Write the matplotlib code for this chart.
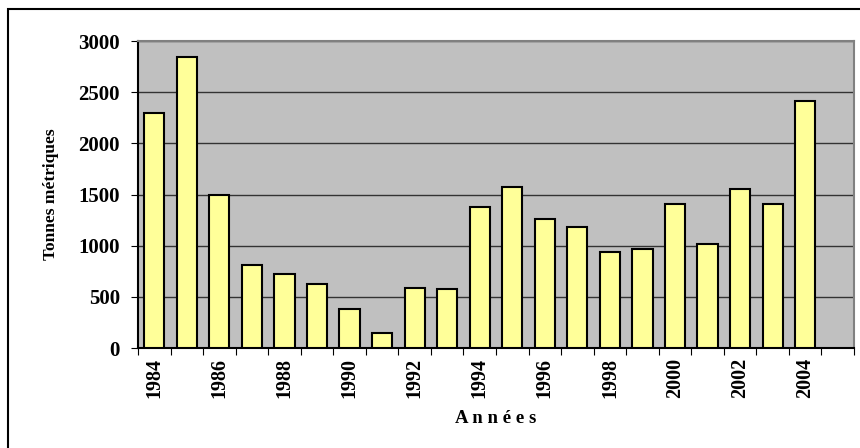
import numpy as np
import matplotlib.pyplot as plt
from matplotlib.patches import Rectangle

# Donnees
annees = list(range(1984, 2005))
tonnes = [2300, 2840, 1495, 810, 725, 625, 380, 145, 590, 580, 1380,
          1575, 1260, 1180, 940, 970, 1410, 1020, 1555, 1410, 2415]
etiquettes = [str(a) if a % 2 == 0 else "" for a in annees]

plt.rcParams['font.family'] = ['Liberation Serif', 'DejaVu Serif']

fig = plt.figure(figsize=(8.6, 4.48), dpi=100)
ax = fig.add_axes([138/860, 1 - 348/448, 716/860, 307/448])

x = np.arange(len(annees))
ax.bar(x, tonnes, width=0.62, color="#ffff99", edgecolor="black", linewidth=1.5, zorder=3)

# axes
ax.set_facecolor("#c0c0c0")
ax.set_xlim(-0.5, len(annees) + 0.5)
ax.set_ylim(0, 3000)
ax.set_yticks(np.arange(0, 3001, 500))
ax.yaxis.grid(True, color="#333333", linewidth=1, zorder=1)
ax.set_axisbelow(True)

ax.set_xticks(np.arange(-0.5, len(annees) + 1, 1), minor=False)
ax.set_xticklabels([])
ax.set_xticks(x, minor=True)
ax.set_xticklabels(etiquettes, minor=True, rotation=90, fontsize=14.5, fontweight="bold")
ax.tick_params(axis="x", which="minor", length=0, pad=7)
ax.tick_params(axis="x", which="major", length=5, direction="out", color="black")
ax.tick_params(axis="y", length=5, labelsize=15, pad=8)
for lab in ax.get_yticklabels():
    lab.set_fontweight("bold")

ax.spines['left'].set_color('black')
ax.spines['bottom'].set_color('black')
ax.spines['top'].set_color('#808080')
ax.spines['right'].set_color('#808080')
for s in ax.spines.values():
    s.set_linewidth(1.5)

# achsenbeschriftung
ax.set_ylabel("Tonnes métriques", fontsize=12.5, fontweight="bold", labelpad=14)
ax.set_xlabel("A n n é e s", fontsize=13.5, fontweight="bold", labelpad=9)

# cadre
fig.patches.append(Rectangle((8/860, -0.1), 1, 1 - 9/448 + 0.1, transform=fig.transFigure,
                             fill=False, edgecolor="black", linewidth=1.5))

fig.savefig("out.png", dpi=100)
